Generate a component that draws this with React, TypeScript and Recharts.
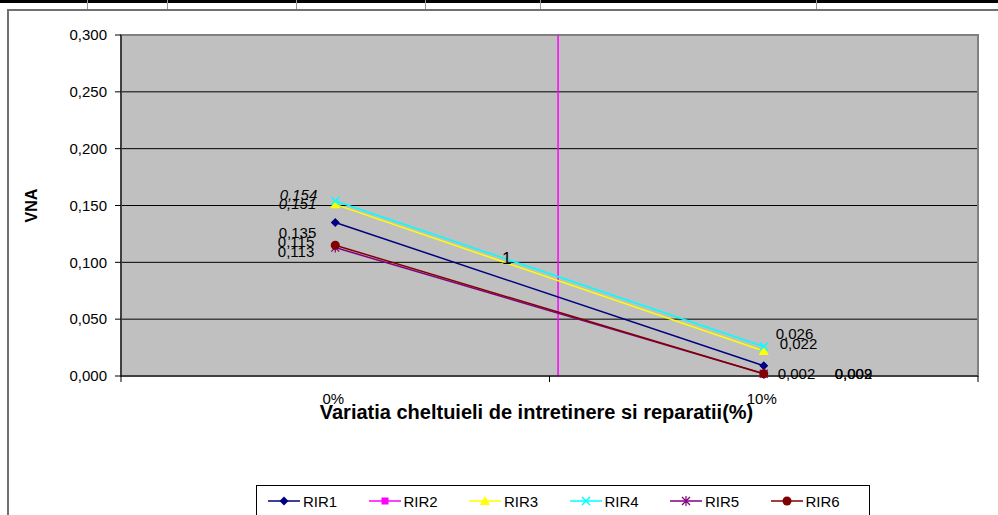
import React from "react";
import {
  LineChart,
  Line,
  XAxis,
  YAxis,
  CartesianGrid,
  ReferenceLine,
  ReferenceArea,
  ReferenceDot,
  Label,
} from "recharts";

// categories on the x axis (percent variation)
const categories = [0, 10];
const xTickLabels = ["0%", "10%"];
const yTicks = [0, 0.05, 0.1, 0.15, 0.2, 0.25, 0.3];

// VNA values per series
const rir1 = [0.135, 0.009];
const rir3 = [0.151, 0.022];
const rir4 = [0.154, 0.026];
const rir5 = [0.113, 0.002];
const rir6 = [0.115, 0.002];

// RIR2 runs off the scale; only its crossing through the plot is visible
const rir2CrossX = 5.2;
const strayLabel = { x: 4, y: 0.1, text: "1" };

const FONT = '"Liberation Sans", Arial, sans-serif';

const data = categories.map((x, i) => ({
  x,
  rir1: rir1[i],
  rir3: rir3[i],
  rir4: rir4[i],
  rir5: rir5[i],
  rir6: rir6[i],
}));

type Marker = "diamond" | "square" | "triangle" | "x" | "star" | "circle";

interface LabelPos {
  dx: number;
  dy: number;
  anchor: "start" | "end";
  italic?: boolean;
}

interface Series {
  key: string;
  name: string;
  color: string;
  marker: Marker;
  labels?: LabelPos[];
}

const series: Series[] = [
  {
    key: "rir1", name: "RIR1", color: "#000080", marker: "diamond",
    labels: [{ dx: -19, dy: 10, anchor: "end" }, { dx: 71, dy: 8, anchor: "start" }],
  },
  { key: "rir2", name: "RIR2", color: "#FF00FF", marker: "square" },
  {
    key: "rir3", name: "RIR3", color: "#FFFF00", marker: "triangle",
    labels: [{ dx: -19, dy: -1, anchor: "end", italic: true }, { dx: 16, dy: -7, anchor: "start" }],
  },
  {
    key: "rir4", name: "RIR4", color: "#00FFFF", marker: "x",
    labels: [{ dx: -18, dy: -6, anchor: "end", italic: true }, { dx: 12, dy: -13, anchor: "start" }],
  },
  {
    key: "rir5", name: "RIR5", color: "#800080", marker: "star",
    labels: [{ dx: -21, dy: 4, anchor: "end" }, { dx: 71, dy: 0, anchor: "start" }],
  },
  {
    key: "rir6", name: "RIR6", color: "#800000", marker: "circle",
    labels: [{ dx: -21, dy: -4, anchor: "end" }, { dx: 14, dy: 0, anchor: "start" }],
  },
];

const fmt = (v: number) => v.toFixed(3).replace(".", ",");

function MarkerShape({ cx, cy, marker, color }: { cx: number; cy: number; marker: Marker; color: string }) {
  switch (marker) {
    case "diamond":
      return <path d={`M${cx},${cy - 4.5}L${cx + 4.5},${cy}L${cx},${cy + 4.5}L${cx - 4.5},${cy}Z`} fill={color} />;
    case "square":
      return <rect x={cx - 3.5} y={cy - 3.5} width={7} height={7} fill={color} />;
    case "triangle":
      return <path d={`M${cx},${cy - 5}L${cx + 5},${cy + 4}L${cx - 5},${cy + 4}Z`} fill={color} />;
    case "x":
      return (
        <path d={`M${cx - 4},${cy - 4}L${cx + 4},${cy + 4}M${cx + 4},${cy - 4}L${cx - 4},${cy + 4}`} stroke={color} strokeWidth={1.5} />
      );
    case "star":
      return (
        <path
          d={`M${cx - 4},${cy - 4}L${cx + 4},${cy + 4}M${cx + 4},${cy - 4}L${cx - 4},${cy + 4}M${cx},${cy - 5}L${cx},${cy + 5}`}
          stroke={color}
          strokeWidth={1.2}
        />
      );
    default:
      return <circle cx={cx} cy={cy} r={4.5} fill={color} />;
  }
}

function XTick(props: any) {
  const { x, y, payload } = props;
  const idx = categories.indexOf(payload.value);
  if (idx >= 0) {
    return (
      <text x={x - 2} y={y + 22} textAnchor="middle" dominantBaseline="central" fontSize={15} fontFamily={FONT} fill="#000">
        {xTickLabels[idx]}
      </text>
    );
  }
  return <line x1={x} x2={x} y1={y} y2={y + 6} stroke="#000" strokeWidth={1} />;
}

function Legend() {
  return (
    <div
      style={{
        position: "absolute",
        left: 256,
        top: 485,
        width: 614,
        height: 40,
        border: "1px solid #000",
        background: "#fff",
        boxSizing: "border-box",
        fontFamily: FONT,
        fontSize: 15,
      }}
    >
      {series.map((s, i) => (
        <div
          key={s.key}
          style={{ position: "absolute", left: 10 + i * 100.5, top: 6, display: "flex", alignItems: "center", height: 18 }}
        >
          <svg width={34} height={14}>
            <line x1={1} x2={33} y1={7} y2={7} stroke={s.color} strokeWidth={1.5} />
            <MarkerShape cx={17} cy={7} marker={s.marker} color={s.color} />
          </svg>
          <span style={{ marginLeft: 2 }}>{s.name}</span>
        </div>
      ))}
    </div>
  );
}

export default function App() {
  return (
    <div style={{ position: "absolute", left: 0, top: 0, width: 998, height: 515, background: "#fff", overflow: "hidden" }}>
      {/* table rule above the chart */}
      <div style={{ position: "absolute", left: 0, top: 0, width: 998, height: 3, background: "#000" }} />
      {[87, 167, 296, 425, 540, 816].map((x) => (
        <div key={x} style={{ position: "absolute", left: x, top: 0, width: 1, height: 9, background: "#999" }} />
      ))}
      {/* chart frame */}
      <div
        style={{
          position: "absolute",
          left: 7,
          top: 9,
          width: 1100,
          height: 600,
          borderTop: "2px solid #707070",
          borderLeft: "2px solid #707070",
        }}
      />
      <div style={{ position: "absolute", left: 0, top: 0 }}>
        <LineChart width={998} height={515} data={data} margin={{ top: 35, right: 20, bottom: 99, left: 0 }}>
          <CartesianGrid vertical={false} stroke="#000" fill="#C0C0C0" fillOpacity={1} />
          <XAxis
            type="number"
            dataKey="x"
            domain={[-5, 15]}
            ticks={[-5, 0, 5, 10, 15]}
            interval={0}
            height={40}
            tickSize={0}
            tickMargin={0}
            tickLine={false}
            tick={<XTick />}
            axisLine={{ stroke: "#000" }}
          >
            <Label
              content={(p: any) => {
                const vb = p.viewBox || { x: 121, y: 376, width: 857 };
                return (
                  <text
                    x={vb.x + vb.width / 2 - 13}
                    y={vb.y + 36}
                    textAnchor="middle"
                    dominantBaseline="central"
                    fontSize={20}
                    fontWeight="bold"
                    fontFamily={FONT}
                    fill="#000"
                  >
                    Variatia cheltuieli de intretinere si reparatii(%)
                  </text>
                );
              }}
            />
          </XAxis>
          <YAxis
            type="number"
            domain={[0, 0.3]}
            ticks={yTicks}
            width={121}
            tickSize={6}
            tickMargin={8}
            tickFormatter={fmt}
            tick={{ fontSize: 15, fontFamily: FONT, fill: "#000" }}
            tickLine={{ stroke: "#000" }}
            axisLine={{ stroke: "#000" }}
          >
            <Label
              content={(p: any) => {
                const vb = p.viewBox || { x: 0, y: 35, height: 341 };
                const cy = vb.y + vb.height / 2;
                return (
                  <text
                    x={31}
                    y={cy}
                    transform={`rotate(-90 31 ${cy})`}
                    textAnchor="middle"
                    dominantBaseline="central"
                    fontSize={16}
                    fontWeight="bold"
                    fontFamily={FONT}
                    fill="#000"
                  >
                    VNA
                  </text>
                );
              }}
            />
          </YAxis>
          <ReferenceArea x1={-5} x2={15} y1={0} y2={0.3} fill="none" stroke="#808080" strokeWidth={2} />
          <ReferenceLine x={rir2CrossX} stroke="#FF00FF" strokeWidth={1.5} />
          <ReferenceDot
            x={strayLabel.x}
            y={strayLabel.y}
            r={0}
            stroke="none"
            fill="none"
            label={{ value: strayLabel.text, position: "center", fontSize: 17, fontFamily: FONT, fill: "#000", dy: -4 }}
          />
          {series
            .filter((s) => s.key !== "rir2")
            .map((s) => (
              <Line
                key={s.key}
                dataKey={s.key}
                type="linear"
                stroke={s.color}
                strokeWidth={1.5}
                isAnimationActive={false}
                dot={(p: any) => {
                  const lp = s.labels ? s.labels[p.index] : undefined;
                  const v = p.payload[s.key];
                  return (
                    <g key={`${s.key}-${p.index}`}>
                      <MarkerShape cx={p.cx} cy={p.cy} marker={s.marker} color={s.color} />
                      {lp && (
                        <text
                          x={p.cx + lp.dx}
                          y={p.cy + lp.dy}
                          textAnchor={lp.anchor}
                          dominantBaseline="central"
                          fontSize={15}
                          fontStyle={lp.italic ? "italic" : "normal"}
                          fontFamily={FONT}
                          fill="#000"
                        >
                          {fmt(v)}
                        </text>
                      )}
                    </g>
                  );
                }}
                activeDot={false}
              />
            ))}
        </LineChart>
      </div>
      <Legend />
    </div>
  );
}
